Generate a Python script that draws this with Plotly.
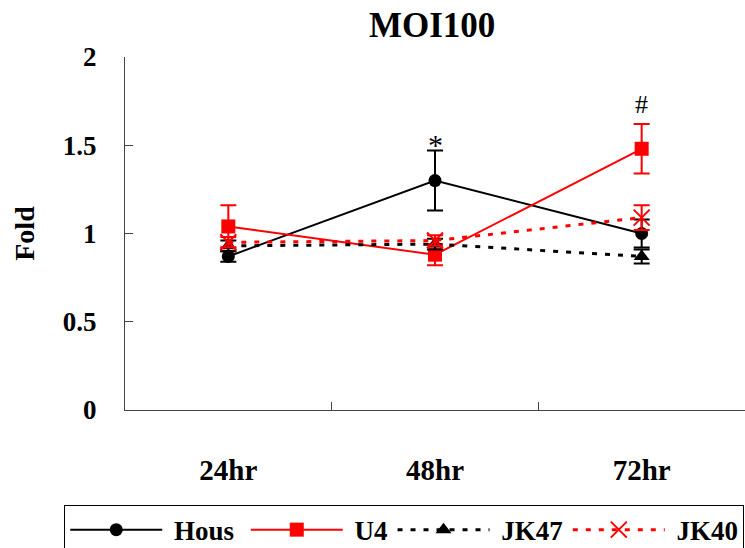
import plotly.graph_objects as go

# Time points and fold-change values
timepoints = ["24hr", "48hr", "72hr"]

hous = [0.87, 1.30, 1.00]
hous_err = [0.03, 0.17, 0.08]

u4 = [1.04, 0.88, 1.48]
u4_err = [0.12, 0.06, 0.14]

jk47 = [0.93, 0.94, 0.87]
jk47_err = [0.03, 0.03, 0.04]

jk40 = [0.95, 0.96, 1.09]
jk40_err = [0.03, 0.03, 0.07]

# Significance marks placed above the error bars: (x, y, text, size, shift)
marks = [("48hr", 1.30 + 0.17, "*", 30, 6), ("72hr", 1.48 + 0.14, "#", 26, 20)]

SERIF = "Liberation Serif, Times New Roman, serif"

# (name, values, errors, colour, dash, width, marker, trailing legend pad)
series = [
    ("Hous", hous, hous_err, "black", "solid", 2, dict(symbol="circle", size=13), "&nbsp;"),
    ("U4", u4, u4_err, "#ff0000", "solid", 2, dict(symbol="square", size=14), ""),
    ("JK47", jk47, jk47_err, "black", "5px,8px", 3, dict(symbol="triangle-up", size=14), ""),
    ("JK40", jk40, jk40_err, "#ff0000", "5px,8px", 3,
     dict(symbol="x-thin", size=16, line=dict(color="#ff0000", width=2)), ""),
]

fig = go.Figure()
for name, vals, errs, color, dash, lw, marker, pad in series:
    m = dict(color=color, **marker)
    fig.add_trace(go.Scatter(
        x=timepoints, y=vals, name=f"&nbsp;<b>{name}</b>{pad}", mode="lines+markers",
        line=dict(color=color, width=lw, dash=dash),
        marker=m,
        error_y=dict(type="data", array=errs, visible=True,
                     color=color, thickness=2, width=8),
    ))

for x, y, txt, size, shift in marks:
    fig.add_annotation(x=x, y=y, text=txt, showarrow=False, yshift=shift,
                       font=dict(family=SERIF, size=size, color="black"))

fig.update_layout(
    width=745, height=548,
    margin=dict(l=125, r=0, t=57, b=138, autoexpand=False),
    paper_bgcolor="white", plot_bgcolor="white",
    title=dict(text="<b>MOI100</b>", x=0.58, xanchor="center", y=0.955, yanchor="middle",
               font=dict(family=SERIF, size=35, color="black")),
    showlegend=True,
    legend=dict(orientation="h", x=-0.098, xanchor="left", y=-0.268, yanchor="top",
                bordercolor="black", borderwidth=1, itemwidth=92,
                font=dict(family=SERIF, size=27, color="black"),
                tracegroupgap=0),
    xaxis=dict(type="category", range=[-0.5, 2.5], automargin=False,
               showline=True, linecolor="#444", linewidth=1,
               ticks="inside", tickson="boundaries", ticklen=8, tickcolor="#444",
               showgrid=False, ticklabelstandoff=34,
               tickfont=dict(family=SERIF, size=29, color="black"),
               tickprefix="<b>", ticksuffix="</b>"),
    yaxis=dict(range=[0, 2], dtick=0.5, automargin=False,
               showline=True, linecolor="#444", linewidth=1,
               ticks="inside", ticklen=8, tickcolor="#444", showgrid=False,
               zeroline=False, ticklabelstandoff=22,
               tickfont=dict(family=SERIF, size=27, color="black"),
               tickprefix="<b>", ticksuffix="</b>",
               title=dict(text="<b>Fold</b>", standoff=20,
                          font=dict(family=SERIF, size=28, color="black"))),
)

fig.write_html("out.html")
